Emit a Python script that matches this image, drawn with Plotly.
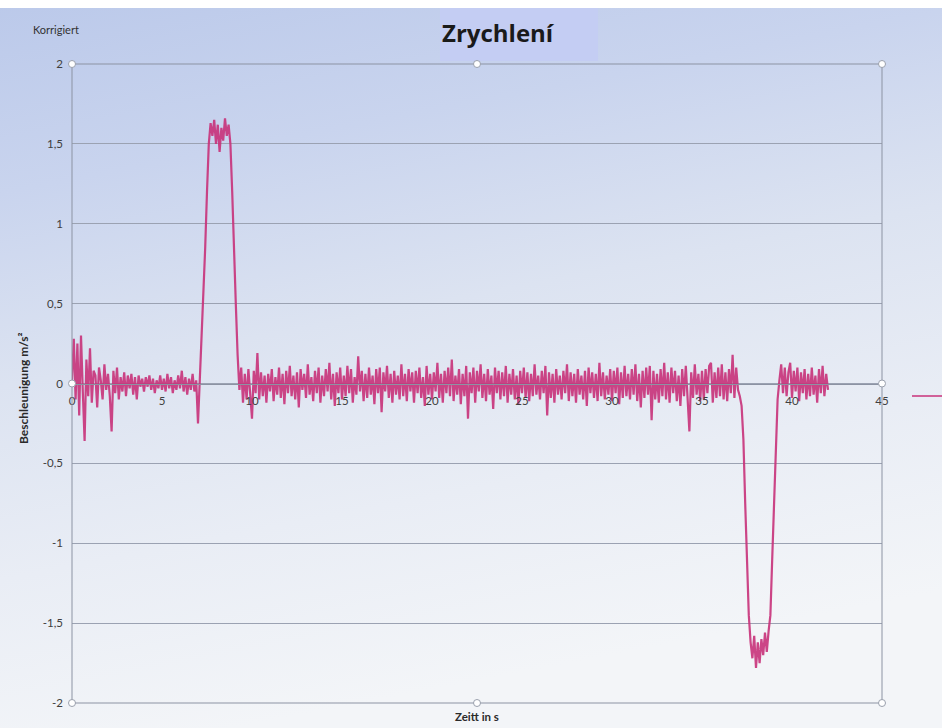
import base64
import numpy as np
import plotly.graph_objects as go

# Acceleration samples (m/s²), one every 0.1 s, grouped by phase of the ride
accel_start = [  # 0.0 – 6.9 s, standing / settling
    0.02, 0.28, -0.1, 0.25, -0.2, 0.3, -0.05, -0.36, 0.15, -0.08,
    0.22, -0.12, 0.08, 0.05, -0.15, 0.1, 0.02, -0.1, 0.12, -0.04,
    0.06, -0.08, -0.3, 0.08, -0.06, 0.1, -0.1, 0.04, -0.05, 0.07,
    -0.08, 0.05, -0.03, 0.06, -0.07, 0.04, -0.1, 0.05, -0.02, 0.03,
    -0.05, 0.04, -0.02, 0.05, -0.04, 0.03, -0.06, 0.02, -0.03, 0.05,
    -0.04, 0.03, -0.05, 0.06, -0.03, 0.04, -0.06, 0.02, -0.04, 0.05,
    -0.03, 0.08, -0.05, 0.04, -0.07, 0.03, -0.04, 0.06, -0.05, 0.02,
]
accel_speedup = [  # 7.0 – 9.2 s
    -0.25, 0.02, 0.25, 0.5, 0.85, 1.2, 1.5, 1.63, 1.55, 1.65,
    1.5, 1.62, 1.45, 1.6, 1.52, 1.66, 1.55, 1.62, 1.5, 1.2,
    0.8, 0.5, 0.18,
]
accel_cruise = [  # 9.3 – 36.9 s
    -0.04, 0.1, -0.12, 0.06, -0.1, 0.09, -0.06,
    -0.22, 0.08, -0.06, 0.19, -0.1, 0.07, -0.08, 0.05, -0.12, 0.06,
    -0.05, 0.09, -0.11, 0.04, -0.07, 0.1, -0.09, 0.06, -0.13, 0.08,
    -0.06, 0.11, -0.08, 0.05, -0.1, 0.07, -0.15, 0.09, -0.04, 0.06,
    -0.09, 0.12, -0.07, 0.04, -0.11, 0.08, -0.06, 0.1, -0.12, 0.05,
    -0.08, 0.09, -0.05, 0.13, -0.1, 0.06, -0.14, 0.07, -0.06, 0.1,
    -0.1, 0.05, -0.08, 0.11, -0.06, 0.09, -0.12, 0.04, -0.07, 0.17,
    -0.05, 0.08, -0.11, 0.06, -0.09, 0.1, -0.07, 0.05, -0.13, 0.09,
    -0.06, 0.1, -0.18, 0.07, -0.05, 0.11, -0.09, 0.06, -0.12, 0.08,
    -0.07, 0.05, -0.1, 0.12, -0.08, 0.06, -0.11, 0.09, -0.05, 0.07,
    -0.12, 0.08, -0.06, 0.1, -0.09, 0.04, -0.14, 0.11, -0.07, 0.06,
    -0.1, 0.07, -0.05, 0.13, -0.09, 0.06, -0.12, 0.08, -0.06, 0.1,
    -0.08, 0.15, -0.11, 0.05, -0.07, 0.09, -0.13, 0.06, -0.08, 0.11,
    -0.22, 0.07, -0.06, 0.1, -0.12, 0.08, -0.05, 0.12, -0.09, 0.06,
    -0.11, 0.09, -0.07, 0.05, -0.16, 0.1, -0.06, 0.08, -0.1, 0.07,
    -0.08, 0.11, -0.12, 0.06, -0.07, 0.09, -0.1, 0.05, -0.13, 0.08,
    -0.06, 0.1, -0.09, 0.07, -0.11, 0.06, -0.08, 0.12, -0.07, 0.05,
    -0.1, 0.08, -0.06, 0.11, -0.2, 0.07, -0.09, 0.06, -0.12, 0.09,
    -0.07, 0.05, -0.1, 0.08, -0.06, 0.12, -0.11, 0.07, -0.08, 0.06,
    -0.12, 0.09, -0.07, 0.05, -0.1, 0.08, -0.14, 0.1, -0.06, 0.07,
    -0.09, 0.06, -0.11, 0.13, -0.08, 0.07, -0.1, 0.05, -0.07, 0.09,
    -0.11, 0.08, -0.06, 0.1, -0.13, 0.07, -0.09, 0.11, -0.08, 0.06,
    -0.1, 0.09, -0.07, 0.12, -0.11, 0.06, -0.15, 0.08, -0.09, 0.1,
    -0.07, 0.11, -0.23, 0.08, -0.1, 0.06, -0.12, 0.09, -0.08, 0.13,
    -0.1, 0.07, -0.12, 0.1, -0.06, 0.08, -0.11, 0.05, -0.14, 0.09,
    -0.08, 0.11, -0.1, -0.3, 0.07, -0.09, 0.12, -0.07, 0.06, -0.11,
    0.08, -0.1, 0.09, -0.06, 0.11, 0.13, -0.12, 0.07, -0.09, 0.1,
    -0.08, 0.12, -0.1, 0.07, -0.11, 0.09, -0.06, 0.18, -0.09, 0.1,
]
accel_brake = [  # 37.0 – 39.2 s
    -0.04, -0.08, -0.14, -0.35, -0.75, -1.1, -1.45, -1.62, -1.72, -1.58,
    -1.78, -1.62, -1.75, -1.6, -1.7, -1.56, -1.68, -1.55, -1.45, -1.1,
    -0.78, -0.45, -0.1,
]
accel_stop = [  # 39.3 – 42.0 s
    0.02, 0.12, -0.06, 0.1, -0.08, 0.07, 0.13,
    -0.09, 0.08, -0.05, 0.1, -0.11, 0.07, -0.06, 0.09, -0.1, 0.06,
    -0.08, 0.1, -0.07, 0.05, -0.12, 0.09, -0.06, 0.11, -0.08, 0.06,
    -0.04,
]
sample_step = 0.1  # s

x_ticks = [0, 5, 10, 15, 20, 25, 30, 35, 40, 45]
y_ticks = [-2, -1.5, -1, -0.5, 0, 0.5, 1, 1.5, 2]
y_tick_labels = ["-2", "-1,5", "-1", "-0,5", "0", "0,5", "1", "1,5", "2"]

accel = accel_start + accel_speedup + accel_cruise + accel_brake + accel_stop
time = np.round(np.arange(len(accel)) * sample_step, 2)

W, H = 942, 728
L, R, T, B = 72, 60, 64, 25
PW, PH = W - L - R, H - T - B


def px(x):
    """page pixel x -> paper x"""
    return (x - L) / PW


def py(y):
    """page pixel y -> paper y"""
    return (H - B - y) / PH


# soft blue-to-white page background
svg = f"""<svg xmlns="http://www.w3.org/2000/svg" width="{W}" height="{H}" viewBox="0 0 {W} {H}" preserveAspectRatio="none">
<defs><linearGradient id="g" x1="0" y1="0" x2="0.25" y2="1">
<stop offset="0" stop-color="#bbc9ea"/>
<stop offset="0.25" stop-color="#c9d4ee"/>
<stop offset="0.5" stop-color="#dce3f1"/>
<stop offset="0.75" stop-color="#e9edf5"/>
<stop offset="1" stop-color="#f3f5f8"/>
</linearGradient></defs>
<rect width="{W}" height="{H}" fill="url(#g)"/>
<rect width="{W}" height="8" fill="#ffffff"/>
</svg>"""
bg_src = "data:image/svg+xml;base64," + base64.b64encode(svg.encode()).decode()

LINE = "#c8327a"
GRID = "#9ba2b2"
AXIS = "#8c93a3"

fig = go.Figure()
fig.add_trace(go.Scatter(
    x=time, y=accel, mode="lines",
    line=dict(color=LINE, width=2.2), opacity=0.9,
    showlegend=False, hoverinfo="skip",
))

shapes = [
    # plot-area frame
    dict(type="rect", xref="paper", yref="paper", x0=0, x1=1, y0=0, y1=1,
         line=dict(color=AXIS, width=1), layer="above"),
    # title box
    dict(type="rect", xref="paper", yref="paper", x0=px(440), x1=px(598),
         y0=py(61), y1=py(8), fillcolor="#c4cdf3", line=dict(width=0),
         layer="below"),
    # legend key stub at the right edge
    dict(type="line", xref="paper", yref="paper", x0=px(912), x1=px(945),
         y0=py(396), y1=py(396), line=dict(color=LINE, width=1.5)),
]
# selection handles around the plot area
for hx, hy in [(0, 1), (0.5, 1), (1, 1), (0, 0), (0.5, 0), (1, 0), (1, 0.5), (0, 0.5)]:
    shapes.append(dict(
        type="circle", xref="paper", yref="paper",
        xsizemode="pixel", ysizemode="pixel", xanchor=hx, yanchor=hy,
        x0=-3.5, x1=3.5, y0=-3.5, y1=3.5,
        fillcolor="#ffffff", line=dict(color="#9aa0ad", width=1), layer="above",
    ))

annotations = [
    dict(text="<b>Zrychlení</b>", xref="paper", yref="paper", x=px(440), y=py(33),
         xanchor="left", yanchor="middle", showarrow=False,
         font=dict(family="Open Sans", size=24, color="#1a1a1a")),
    dict(text="Korrigiert", xref="paper", yref="paper", x=px(31), y=py(29),
         xanchor="left", yanchor="middle", showarrow=False,
         font=dict(family="Lato", size=11, color="#333333")),
    dict(text="<b>Beschleunigung m/s²</b>", xref="paper", yref="paper",
         x=px(23), y=py(388), xanchor="center", yanchor="middle", textangle=-90,
         showarrow=False, font=dict(family="Lato", size=12, color="#2a2a2a")),
    dict(text="<b>Zeitt in s</b>", xref="paper", yref="paper", x=px(477), y=py(716),
         xanchor="center", yanchor="middle", showarrow=False,
         font=dict(family="Lato", size=11.5, color="#2a2a2a")),
]

fig.update_layout(
    width=W, height=H,
    margin=dict(l=L, r=R, t=T, b=B, pad=0),
    paper_bgcolor="rgba(0,0,0,0)", plot_bgcolor="rgba(0,0,0,0)",
    images=[dict(source=bg_src, xref="paper", yref="paper",
                 x=-L / PW, y=1 + T / PH, sizex=W / PW, sizey=H / PH,
                 xanchor="left", yanchor="top", sizing="stretch", layer="below")],
    xaxis=dict(
        range=[0, 45], tickvals=x_ticks, ticks="", showgrid=False, zeroline=False,
        anchor="free", position=0.5, showline=True, linecolor=AXIS, linewidth=1,
        ticklabelstandoff=7,
        tickfont=dict(family="Lato", size=11.5, color="#404040"),
    ),
    yaxis=dict(
        range=[-2, 2], tickvals=y_ticks, ticktext=y_tick_labels, ticks="",
        showgrid=True, gridcolor=GRID, gridwidth=1, zeroline=False,
        showline=False, ticklabelstandoff=8,
        tickfont=dict(family="Lato", size=11.5, color="#404040"),
    ),
    shapes=shapes,
    annotations=annotations,
    showlegend=False,
)

fig.write_html("out.html")
